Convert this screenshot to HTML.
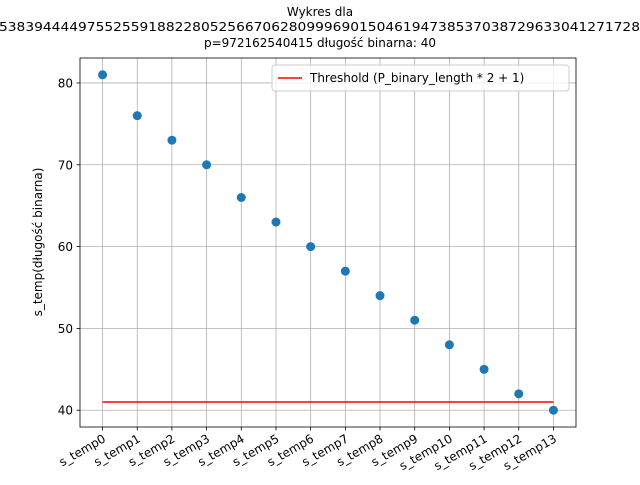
<!DOCTYPE html>
<html><head><meta charset="utf-8"><style>
body{margin:0;background:#fff}
svg text{font-family:"DejaVu Sans","Liberation Sans",sans-serif;fill:#000}
</style></head><body>
<svg id="c" width="640" height="480" xmlns="http://www.w3.org/2000/svg">
<text x="320" y="16" font-size="12" text-anchor="middle">Wykres dla</text>
<text x="-1" y="31" font-size="12" textLength="641" lengthAdjust="spacingAndGlyphs">5383944449755255918822805256670628099969015046194738537038729633041271728</text>
<text x="320" y="47" font-size="12" text-anchor="middle">p=972162540415 długość binarna: 40</text>
<g id="grid"></g>
<g id="marks"></g>
<rect x="80" y="58" width="496" height="369" fill="none" stroke="#000" stroke-width="0.8"/>
<g id="ticks"></g>
<text transform="translate(42,242) rotate(-90)" font-size="12" text-anchor="middle">s_temp(długość binarna)</text>
<g>
<rect x="272" y="65" width="297" height="26" rx="3" fill="#fff" fill-opacity="0.8" stroke="#ccc"/>
<line x1="278" y1="78" x2="302" y2="78" stroke="red" stroke-width="1.5"/>
<text x="310" y="82" font-size="12">Threshold (P_binary_length * 2 + 1)</text>
</g>
</svg>
<script>
const categories=["s_temp0","s_temp1","s_temp2","s_temp3","s_temp4","s_temp5","s_temp6","s_temp7","s_temp8","s_temp9","s_temp10","s_temp11","s_temp12","s_temp13"];
const values=[81,76,73,70,66,63,60,57,54,51,48,45,42,40];
const threshold=[41];
const yTicks=[40,50,60,70,80];
const NS="http://www.w3.org/2000/svg";
const X0=80,X1=576,Y0=427,Y1=58;
const xMin=-0.65,xMax=categories.length-1+0.65,yMin=37.95,yMax=83.05;
const xs=i=>X0+(i-xMin)/(xMax-xMin)*(X1-X0);
const ys=v=>Y0-(v-yMin)/(yMax-yMin)*(Y0-Y1);
function mk(t,a,p){const e=document.createElementNS(NS,t);for(const k in a)e.setAttribute(k,a[k]);p.appendChild(e);return e;}
const grid=document.getElementById('grid'),marks=document.getElementById('marks'),ticks=document.getElementById('ticks');
categories.forEach((c,i)=>{
 const x=xs(i);
 const g=mk('line',{x1:x,x2:x,y1:Y1,y2:Y0,stroke:'#b0b0b0','stroke-width':0.8},grid);
 
 
 const t=mk('line',{x1:x,x2:x,y1:Y0,y2:Y0+3.5,stroke:'#000','stroke-width':0.8},ticks);
 
 
 const l=mk('text',{'font-size':12,'text-anchor':'end',transform:`translate(${x+4},${Y0+14}) rotate(-30)`},ticks);
 l.textContent=c;
 
 
});
yTicks.forEach(v=>{
 const y=ys(v);
 const g=mk('line',{x1:X0,x2:X1,y1:y,y2:y,stroke:'#b0b0b0','stroke-width':0.8},grid);
 
 
 const t=mk('line',{x1:X0-3.5,x2:X0,y1:y,y2:y,stroke:'#000','stroke-width':0.8},ticks);
 
 
 const l=mk('text',{x:X0-7,y:y+4.5,'font-size':12,'text-anchor':'end'},ticks);
 l.textContent=v;
 
 
});
const th=mk('line',{x1:xs(0),x2:xs(categories.length-1),y1:ys(threshold[0]),y2:ys(threshold[0]),stroke:'red','stroke-width':1.5},marks);


values.forEach((v,i)=>{
 const p=mk('circle',{cx:xs(i),cy:ys(v),r:4.5,fill:'#1f77b4'},marks);
 
 
});
</script>
</body></html>
